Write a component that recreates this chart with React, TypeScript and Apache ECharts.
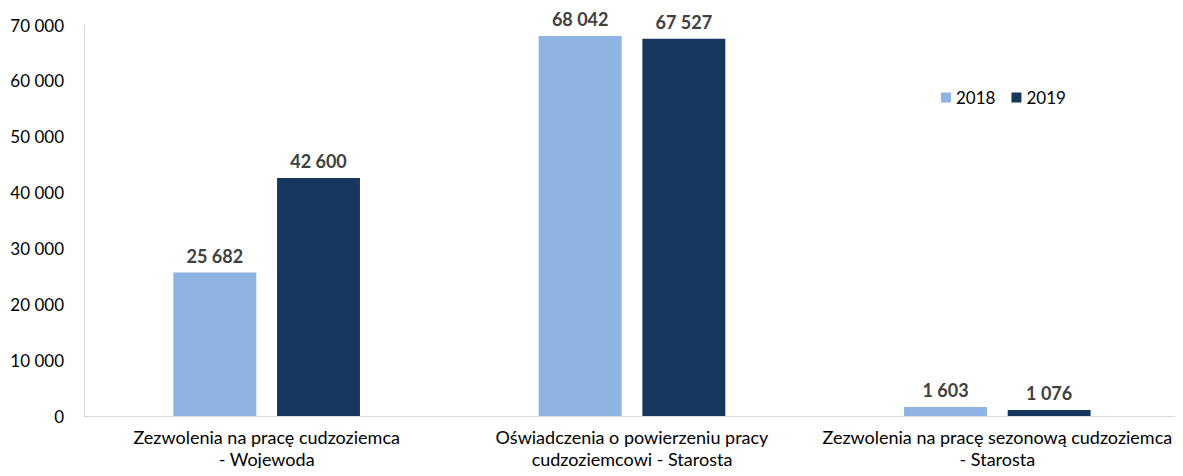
import React, { useEffect, useRef } from "react";
import * as echarts from "echarts";

const categories = [
  "Zezwolenia na pracę cudzoziemca\n- Wojewoda",
  "Oświadczenia o powierzeniu pracy\ncudzoziemcowi - Starosta",
  "Zezwolenia na pracę sezonową cudzoziemca\n- Starosta",
];
const values2018 = [25682, 68042, 1603];
const values2019 = [42600, 67527, 1076];
const seriesNames = ["2018", "2019"];
const colors = ["#8EB4E3", "#17375E"];

const fmt = (v: number) => String(Math.round(v)).replace(/\B(?=(\d{3})+(?!\d))/g, " ");

export default function App() {
  const ref = useRef<HTMLDivElement>(null);
  useEffect(() => {
    if (!ref.current) return;
    const chart = echarts.init(ref.current, undefined, { renderer: "svg" });
    const font = "Lato, sans-serif";
    const label = {
      show: true,
      position: "top" as const,
      distance: 8,
      fontFamily: font,
      fontSize: 18,
      fontWeight: "bold" as const,
      color: "#404040",
      formatter: (p: any) => fmt(p.value),
    };
    chart.setOption({
      animation: false,
      grid: { left: 84, right: 3, top: 25, bottom: 60, containLabel: false },
      legend: {
        data: seriesNames,
        left: 936,
        top: 84,
        itemWidth: 10,
        itemHeight: 10,
        itemGap: 16,
        icon: "rect",
        textStyle: { fontFamily: font, fontSize: 17, color: "#000" },
      },
      xAxis: {
        type: "category",
        data: categories,
        axisLine: { lineStyle: { color: "#D9D9D9" } },
        axisTick: { show: false },
        axisLabel: {
          fontFamily: font,
          fontSize: 18,
          color: "#000",
          lineHeight: 22,
          margin: 10,
          interval: 0,
        },
      },
      yAxis: {
        type: "value",
        min: 0,
        max: 70000,
        interval: 10000,
        axisLine: { show: true, lineStyle: { color: "#D9D9D9" } },
        axisTick: { show: false },
        splitLine: { show: false },
        axisLabel: {
          fontFamily: font,
          fontSize: 17,
          color: "#000",
          margin: 20,
          formatter: (v: number) => fmt(v),
        },
      },
      series: [
        {
          name: seriesNames[0],
          type: "bar",
          data: values2018,
          barWidth: "22.7%",
          barGap: "25%",
          itemStyle: { color: colors[0] },
          label,
        },
        {
          name: seriesNames[1],
          type: "bar",
          data: values2019,
          barWidth: "22.7%",
          itemStyle: { color: colors[1] },
          label,
        },
      ],
    });
    return () => chart.dispose();
  }, []);
  return <div ref={ref} style={{ width: 1183, height: 476, margin: -8 }} />;
}
